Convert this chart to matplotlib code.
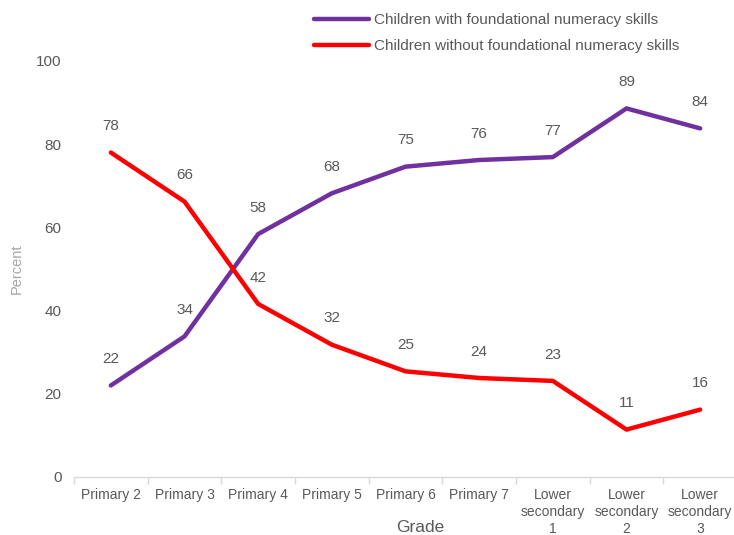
import matplotlib
matplotlib.use("Agg")
import matplotlib.pyplot as plt

categories = ["Primary 2", "Primary 3", "Primary 4", "Primary 5", "Primary 6",
              "Primary 7", "Lower\nsecondary\n1", "Lower\nsecondary\n2", "Lower\nsecondary\n3"]
with_skills = [22.0, 33.8, 58.4, 68.2, 74.6, 76.2, 76.9, 88.6, 83.8]
without_skills = [78.0, 66.2, 41.6, 31.8, 25.4, 23.8, 23.1, 11.4, 16.2]
series_names = ["Children with foundational numeracy skills",
                "Children without foundational numeracy skills"]
yticks = [0, 20, 40, 60, 80, 100]

narrow = ['Liberation Sans Narrow', 'Liberation Sans', 'DejaVu Sans']
regular = ['Liberation Sans', 'DejaVu Sans']
plt.rcParams['font.family'] = narrow
text_col = "#595959"

fig = plt.figure(figsize=(7.34, 5.35), dpi=100)
ax = fig.add_axes([74/734, 1-477/535, 663/734, 416/535])

x = list(range(len(categories)))
l1, = ax.plot(x, with_skills, color="#7030a0", lw=3.2, solid_capstyle="round", solid_joinstyle="round")
l2, = ax.plot(x, without_skills, color="#ff0000", lw=3.2, solid_capstyle="round", solid_joinstyle="round")

for xs, ys in ((x, with_skills), (x, without_skills)):
    for xi, yi in zip(xs, ys):
        ax.annotate(f"{round(yi)}", (xi, yi), xytext=(0, 19), textcoords="offset points",
                    ha="center", va="center", fontsize=11, color=text_col, family=regular)

ax.set_xlim(-0.5, len(categories) - 0.5)
ax.set_ylim(0, 100)
ax.set_yticks(yticks)
ax.set_yticklabels([str(v) for v in yticks], family=regular)
ax.set_xticks(x)
ax.set_xticklabels(categories, fontsize=10, color=text_col, linespacing=1.25, va="top")
ax.set_xticks([i - 0.5 for i in range(len(categories) + 1)], minor=True)
ax.tick_params(axis="x", which="major", length=0, pad=8)
ax.tick_params(axis="x", which="minor", length=5, color="#d9d9d9", width=1)
ax.tick_params(axis="y", length=0, pad=9, labelsize=11, labelcolor=text_col)
for s in ["top", "right", "left"]:
    ax.spines[s].set_visible(False)
ax.spines["bottom"].set_color("#d9d9d9")
ax.spines["bottom"].set_linewidth(1)

ax.set_ylabel("Percent", fontsize=10.5, color="#a6a6a6", family=regular)
ax.yaxis.set_label_coords(-50/663, 0.5)
ax.set_xlabel("Grade", fontsize=12.5, color=text_col, family=regular, va="center")
ax.xaxis.set_label_coords(0.523, -50/416)

fig.legend([l1, l2], series_names, loc="upper left", bbox_to_anchor=(301/734, 1.0),
           frameon=False, fontsize=11, labelcolor=text_col, handlelength=3.6,
           handletextpad=0.3, labelspacing=0.8, borderaxespad=0.45)

fig.savefig("out.png", dpi=100)
